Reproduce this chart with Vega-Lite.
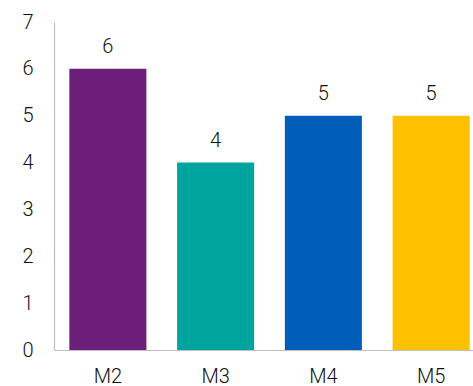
{
  "$schema": "https://vega.github.io/schema/vega-lite/v6.json",
  "width": 431,
  "height": 328,
  "autosize": {"type": "none"},
  "padding": {"left": 54, "top": 22, "right": 0, "bottom": 36},
  "background": "white",
  "config": {"view": {"stroke": null}, "font": "Roboto"},
  "data": {"values": [
    {"model": "M2", "value": 6, "color": "#6B1F7B"},
    {"model": "M3", "value": 4, "color": "#00A49F"},
    {"model": "M4", "value": 5, "color": "#005EB8"},
    {"model": "M5", "value": 5, "color": "#FFC000"}
  ]},
  "encoding": {
    "x": {"field": "model", "type": "nominal", "sort": null,
      "scale": {"paddingInner": 0.285, "paddingOuter": 0.1425},
      "axis": {"title": null, "labelAngle": 0, "ticks": false, "domainColor": "#BFBFBF", "domainWidth": 1.2,
        "labelFontSize": 20, "labelFontWeight": 300, "labelColor": "#111111", "labelPadding": 16, "labelFont": "Roboto"}},
    "y": {"field": "value", "type": "quantitative",
      "scale": {"domain": [0, 7], "nice": false},
      "axis": {"title": null, "values": [0,1,2,3,4,5,6,7], "ticks": false, "grid": false, "domainColor": "#BFBFBF", "domainWidth": 1.2,
        "labelFontSize": 20, "labelFontWeight": 300, "labelColor": "#111111", "labelPadding": 21, "labelFont": "Roboto"}}
  },
  "layer": [
    {"mark": {"type": "bar"}, "encoding": {"color": {"field": "color", "type": "nominal", "scale": null}}},
    {"mark": {"type": "text", "baseline": "alphabetic", "dy": -16, "fontSize": 20, "fontWeight": 300, "color": "#111111", "font": "Roboto"},
      "encoding": {"text": {"field": "value", "type": "quantitative"}}}
  ]
}
